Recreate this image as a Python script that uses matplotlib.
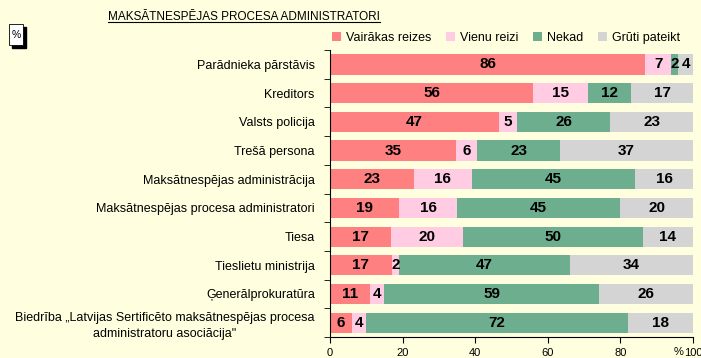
import matplotlib.pyplot as plt
import numpy as np
from matplotlib.patches import Rectangle
from matplotlib.lines import Line2D

plt.rcParams['font.family'] = ['Liberation Sans', 'DejaVu Sans']

categories = [
    'Parādnieka pārstāvis',
    'Kreditors',
    'Valsts policija',
    'Trešā persona',
    'Maksātnespējas administrācija',
    'Maksātnespējas procesa administratori',
    'Tiesa',
    'Tieslietu ministrija',
    'Ģenerālprokuratūra',
    'Biedrība „Latvijas Sertificēto maksātnespējas procesa\nadministratoru asociācija"',
]
series_names = ['Vairākas reizes', 'Vienu reizi', 'Nekad', 'Grūti pateikt']
vairakas = [86, 56, 47, 35, 23, 19, 17, 17, 11, 6]
vienu = [7, 15, 5, 6, 16, 16, 20, 2, 4, 4]
nekad = [2, 12, 26, 23, 45, 45, 50, 47, 59, 72]
gruti = [4, 17, 23, 37, 16, 20, 14, 34, 26, 18]
colors = ['#ff8080', '#ffcce4', '#6dae8f', '#d4d4d4']
bg = '#ffffe0'

data = np.array([vairakas, vienu, nekad, gruti], dtype=float)
shares = data / data.sum(axis=0) * 100  # 100% stacked

fig = plt.figure(figsize=(7.01, 3.58), dpi=100, facecolor=bg)
ax = fig.add_axes([0.4708, 0.0587, 0.5178, 0.8013])
ax.set_facecolor(bg)

y = np.arange(len(categories))
left = np.zeros(len(categories))
for i in range(4):
    ax.barh(y, shares[i], left=left, height=0.7, color=colors[i],
            label=series_names[i], edgecolor='none')
    for j in range(len(categories)):
        ax.text(left[j] + shares[i][j] / 2, y[j], f'{int(data[i][j])}',
                ha='center', va='center', fontsize=11, fontweight='bold')
    left += shares[i]

ax.set_xlim(0, 100)
ax.set_ylim(len(categories) - 0.5, -0.5)
ax.set_xticks([0, 20, 40, 60, 80, 100])
ax.tick_params(axis='x', labelsize=8, length=4, direction='out', pad=4)
ax.set_yticks(y)
ax.set_yticklabels(categories, fontsize=9, multialignment='center', linespacing=1.4)
ax.tick_params(axis='y', which='major', length=0, pad=11)
ax.set_yticks(np.arange(-0.5, len(categories)), minor=True)
ax.tick_params(axis='y', which='minor', length=4, direction='out')
for s in ['top', 'right']:
    ax.spines[s].set_visible(False)
ax.spines['left'].set_linewidth(0.8)
ax.spines['bottom'].set_linewidth(0.8)
ax.text(0.974, -0.035, '%', transform=ax.transAxes, fontsize=8,
        ha='right', va='top')

ax.legend(loc='lower left', bbox_to_anchor=(-0.012, 1.0), ncol=4, frameon=False,
          fontsize=9, handlelength=0.7, handleheight=0.7, handletextpad=0.4,
          columnspacing=1.2, borderaxespad=0.1)

# title with underline
title = fig.text(108 / 701, 1 - 17 / 358, 'MAKSĀTNESPĒJAS PROCESA ADMINISTRATORI',
                 fontsize=8.5, ha='left', va='center')
fig.canvas.draw()
bb = title.get_window_extent().transformed(fig.transFigure.inverted())
fig.lines.append(Line2D([bb.x0, bb.x1], [bb.y0 + 0.003, bb.y0 + 0.003],
                        transform=fig.transFigure, color='black', lw=0.8))

# "%" box with shadow
fig.patches.append(Rectangle((12 / 701, 1 - 48 / 358), 14 / 701, 21 / 358,
                             transform=fig.transFigure, facecolor='black',
                             edgecolor='black'))
fig.patches.append(Rectangle((9 / 701, 1 - 45 / 358), 14 / 701, 21 / 358,
                             transform=fig.transFigure, facecolor='white',
                             edgecolor='black', lw=0.6))
fig.text(16 / 701, 1 - 35 / 358, '%', fontsize=7.5, ha='center', va='center')

fig.savefig('out.png', dpi=100, facecolor=bg)
